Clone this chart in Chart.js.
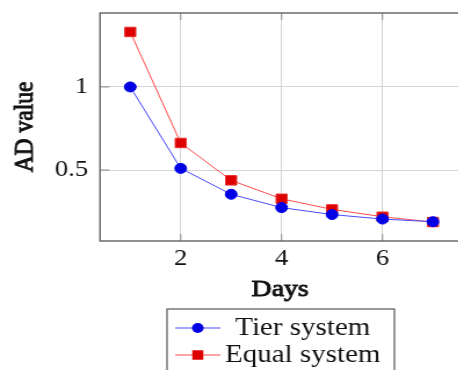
<!DOCTYPE html>
<html>
<head>
<meta charset="utf-8">
<script src="https://cdn.jsdelivr.net/npm/chart.js@4.4.1/dist/chart.umd.min.js"></script>
<style>
html, body { margin: 0; padding: 0; background: #fff; overflow: hidden; width: 458px; height: 370px; }
/* the reference is stretched sideways a bit */
#chart { transform: scaleX(1.16); transform-origin: 0 0; }
</style>
</head>
<body>
<canvas id="chart" width="407" height="370"></canvas>
<script>
const days = [1, 2, 3, 4, 5, 6, 7];
const tierValues = [1.0, 0.51, 0.354, 0.274, 0.232, 0.205, 0.189];
const equalValues = [1.331, 0.663, 0.438, 0.327, 0.263, 0.219, 0.187];
const seriesLabels = ['Tier system', 'Equal system'];
const xTitle = 'Days';
const yTitle = 'AD value';
const xTicks = [2, 4, 6];
const yTicks = [0.5, 1];

const SERIF = '"Liberation Serif", "Times New Roman", serif';

// no bold serif face here, so fake it with fill + thin stroke
function boldText(ctx, text, x, y, size) {
    ctx.font = size + 'px ' + SERIF;
    ctx.fillStyle = '#111';
    ctx.strokeStyle = '#111';
    ctx.lineWidth = 0.9;
    ctx.textAlign = 'center';
    ctx.textBaseline = 'middle';
    ctx.fillText(text, x, y);
    ctx.strokeText(text, x, y);
}

// box around the plot + small inner tick marks like pgfplots
const framePlugin = {
    id: 'frame',
    beforeDatasetsDraw(chart) {
        const { ctx, chartArea: a, scales } = chart;
        ctx.save();
        ctx.strokeStyle = '#8a8a8a';
        ctx.lineWidth = 1;
        ctx.beginPath();
        scales.x.ticks.forEach(t => {
            const px = scales.x.getPixelForValue(t.value);
            ctx.moveTo(px, a.top); ctx.lineTo(px, a.top + 7);
            ctx.moveTo(px, a.bottom); ctx.lineTo(px, a.bottom - 7);
        });
        scales.y.ticks.forEach(t => {
            const py = scales.y.getPixelForValue(t.value);
            ctx.moveTo(a.left, py); ctx.lineTo(a.left + 8, py);
        });
        ctx.stroke();
        ctx.strokeStyle = '#555';
        ctx.lineWidth = 1.3;
        ctx.strokeRect(a.left, a.top, a.right - a.left, a.bottom - a.top);
        ctx.restore();
    }
};

const titlesPlugin = {
    id: 'titles',
    afterDraw(chart) {
        const { ctx, chartArea: a } = chart;
        ctx.save();
        boldText(ctx, xTitle, 241.5, 290, 24);
        ctx.translate(21.6, (a.top + a.bottom) / 2);
        ctx.rotate(-Math.PI / 2);
        boldText(ctx, yTitle, 0, 0, 23.5);
        ctx.restore();
    }
};

const legendPlugin = {
    id: 'boxLegend',
    afterDraw(chart) {
        const ctx = chart.ctx;
        ctx.save();
        ctx.strokeStyle = '#555';
        ctx.lineWidth = 1.2;
        ctx.strokeRect(144, 309, 196, 90);
        chart.data.datasets.forEach((ds, i) => {
            const y = 328 + i * 27;
            ctx.strokeStyle = ds.borderColor;
            ctx.lineWidth = 1;
            ctx.beginPath();
            ctx.moveTo(151, y);
            ctx.lineTo(190, y);
            ctx.stroke();
            ctx.fillStyle = ds.pointBackgroundColor;
            if (ds.pointStyle === 'rect') {
                const h = ds.pointRadius * Math.SQRT1_2;
                ctx.fillRect(170.5 - h, y - h, 2 * h, 2 * h);
            } else {
                ctx.beginPath();
                ctx.arc(170.5, y, ds.pointRadius, 0, Math.PI * 2);
                ctx.fill();
            }
            ctx.fillStyle = '#111';
            ctx.font = '25px ' + SERIF;
            ctx.textAlign = 'center';
            ctx.textBaseline = 'middle';
            ctx.fillText(ds.label, 261, y);
        });
        ctx.restore();
    }
};

new Chart(document.getElementById('chart'), {
    type: 'line',
    data: {
        datasets: [{
            label: seriesLabels[0],
            data: days.map((d, i) => ({ x: d, y: tierValues[i] })),
            borderColor: '#4a4aff',
            borderWidth: 1,
            pointStyle: 'circle',
            pointRadius: 5,
            pointBackgroundColor: '#0000e6',
            pointBorderColor: '#0000e6',
            pointBorderWidth: 1
        }, {
            label: seriesLabels[1],
            data: days.map((d, i) => ({ x: d, y: equalValues[i] })),
            borderColor: '#ff4a4a',
            borderWidth: 1,
            pointStyle: 'rect',
            pointRadius: 6.7,
            pointBackgroundColor: '#dd0000',
            pointBorderColor: '#e83030',
            pointBorderWidth: 1
        }]
    },
    options: {
        responsive: false,
        animation: false,
        layout: { padding: { top: 13, right: 0, left: 0, bottom: 0 } },
        plugins: {
            legend: { display: false },
            tooltip: { enabled: false }
        },
        scales: {
            x: {
                type: 'linear',
                min: 0.4,
                max: 7.6,
                afterBuildTicks: s => { s.ticks = xTicks.map(v => ({ value: v })); },
                afterFit: s => { s.height = 129; s.paddingLeft = 0; s.paddingRight = 0; },
                grid: { color: '#d4d4d4', drawTicks: false },
                border: { display: false },
                ticks: { padding: 4, color: '#111', font: { family: SERIF, size: 23 }, callback: v => String(v) }
            },
            y: {
                type: 'linear',
                min: 0.073,
                max: 1.445,
                afterBuildTicks: s => { s.ticks = yTicks.map(v => ({ value: v })); },
                afterFit: s => { s.width = 86.2; s.paddingTop = 0; s.paddingBottom = 0; },
                grid: { color: '#d4d4d4', drawTicks: false },
                border: { display: false },
                ticks: { padding: 10.3, color: '#111', font: { family: SERIF, size: 23 }, callback: v => String(v) }
            }
        }
    },
    plugins: [framePlugin, titlesPlugin, legendPlugin]
});
</script>
</body>
</html>
